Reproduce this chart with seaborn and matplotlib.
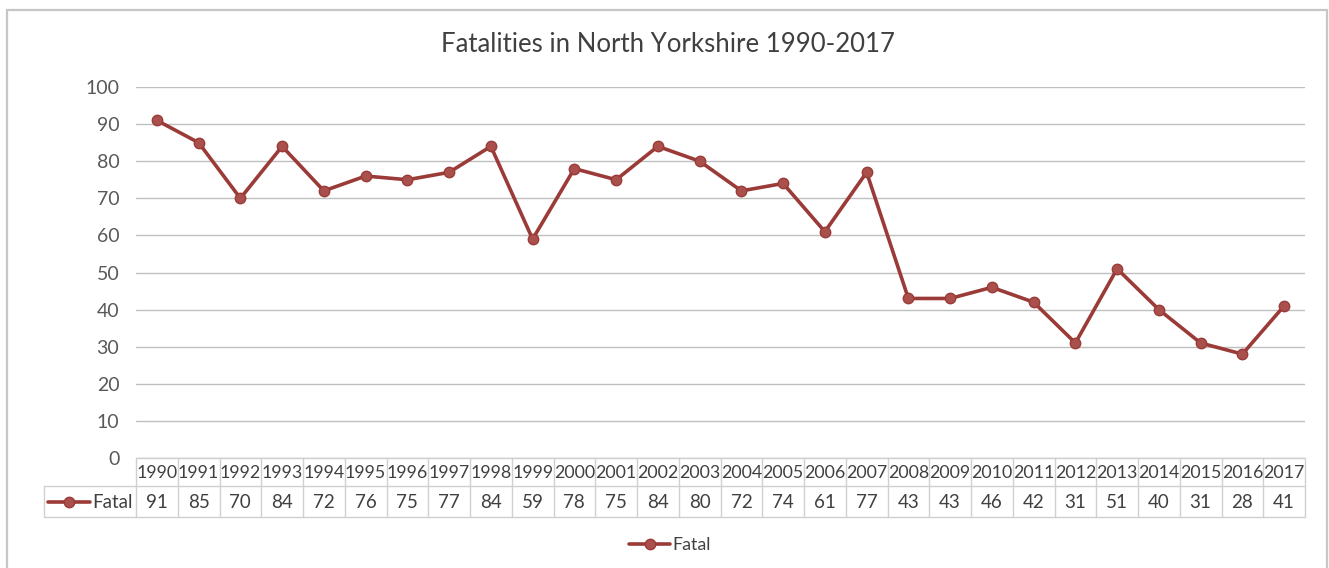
import numpy as np
import pandas as pd
import matplotlib
matplotlib.use("Agg")
import matplotlib.pyplot as plt
from matplotlib.lines import Line2D
from matplotlib.patches import Rectangle
import seaborn as sns

# data
years = list(range(1990, 2018))
fatal = [91, 85, 70, 84, 72, 76, 75, 77, 84, 59, 78, 75, 84, 80,
         72, 74, 61, 77, 43, 43, 46, 42, 31, 51, 40, 31, 28, 41]
series_name = "Fatal"
title = "Fatalities in North Yorkshire 1990-2017"
y_ticks = list(range(0, 101, 10))

df = pd.DataFrame({"Year": years, series_name: fatal})

W, H = 1329, 568
line_col = "#9B3B38"
marker_col = "#A9504D"
grid_col = "#BFBFBF"
cell_col = "#D0D0D0"
text_col = "#404040"
tab_fs = 12.8

sns.set_style("white")
plt.rcParams["font.family"] = ["Lato", "DejaVu Sans"]

fig = plt.figure(figsize=(W / 100, H / 100), dpi=100)

# plot area in pixels
left_px, right_px, top_px, bottom_px = 136, 1305, 87, 458
ax = fig.add_axes([left_px / W, 1 - bottom_px / H,
                   (right_px - left_px) / W, (bottom_px - top_px) / H])

sns.lineplot(data=df, x="Year", y=series_name, ax=ax, color=line_col,
             linewidth=2.6, marker="o", markersize=7.5,
             markerfacecolor=marker_col, markeredgecolor=line_col,
             markeredgewidth=1, legend=False)

ax.set_xlim(years[0] - 0.5, years[-1] + 0.5)
ax.set_ylim(0, 100)
ax.set_yticks(y_ticks)
ax.set_xticks([])
ax.set_xlabel("")
ax.set_ylabel("")
ax.yaxis.grid(True, color=grid_col, linewidth=1)
ax.set_axisbelow(True)
for s in ax.spines.values():
    s.set_visible(False)
ax.tick_params(axis="y", length=0, pad=12, labelsize=14, labelcolor="#595959")

fig.text(0.5025, 1 - 45 / H, title, ha="center", va="center",
         fontsize=18.5, color=text_col)

# data table under the axis
ax_h = bottom_px - top_px
def yfrac(px):
    return -(px - bottom_px) / ax_h

trans = ax.get_xaxis_transform()
row1_top, row1_bot, row2_bot = 458, 486, 517
for yr in years + [years[-1] + 1]:
    ax.add_line(Line2D([yr - 0.5, yr - 0.5], [yfrac(row1_top), yfrac(row2_bot)],
                       transform=trans, color=cell_col, lw=1, clip_on=False))
for ypx in (row1_top, row1_bot, row2_bot):
    ax.add_line(Line2D([years[0] - 0.5, years[-1] + 0.5], [yfrac(ypx)] * 2,
                       transform=trans, color=cell_col, lw=1, clip_on=False))
for yr, v in zip(years, fatal):
    ax.text(yr, yfrac((row1_top + row1_bot) / 2 + 1), str(yr), transform=trans,
            ha="center", va="center", fontsize=tab_fs, color=text_col, clip_on=False)
    ax.text(yr, yfrac((row1_bot + row2_bot) / 2 + 1), str(v), transform=trans,
            ha="center", va="center", fontsize=tab_fs + 0.7, color=text_col, clip_on=False)

# label cell with legend key
lab_l = 44
fy = lambda px: 1 - px / H
fx = lambda px: px / W
for xs, ys in (([lab_l, left_px], [row1_bot, row1_bot]),
               ([lab_l, left_px], [row2_bot, row2_bot]),
               ([lab_l, lab_l], [row1_bot, row2_bot])):
    fig.add_artist(Line2D([fx(x) for x in xs], [fy(y) for y in ys],
                          color=cell_col, lw=1))
mid = (row1_bot + row2_bot) / 2
fig.add_artist(Line2D([fx(48), fx(90)], [fy(mid), fy(mid)], color=line_col, lw=2.6))
fig.add_artist(Line2D([fx(69)], [fy(mid)], marker="o", markersize=7.5,
                      markerfacecolor=marker_col, markeredgecolor=line_col))
fig.text(fx(92), fy(mid + 1), series_name, ha="left", va="center",
         fontsize=tab_fs + 0.7, color=text_col)

# bottom legend
handle = Line2D([], [], color=line_col, lw=2.6, marker="o", markersize=7.5,
                markerfacecolor=marker_col, markeredgecolor=line_col)
fig.legend([handle], [series_name], loc="center", bbox_to_anchor=(fx(670), fy(545)),
           frameon=False, fontsize=tab_fs, handlelength=2.3, handletextpad=0.1,
           labelcolor=text_col)

# chart area border
fig.add_artist(Rectangle((fx(7), fy(600)), fx(1320), fy(10) - fy(600),
                         fill=False, edgecolor="#C6C6C6", lw=1.6,
                         transform=fig.transFigure))

fig.savefig("out.png", dpi=100)
